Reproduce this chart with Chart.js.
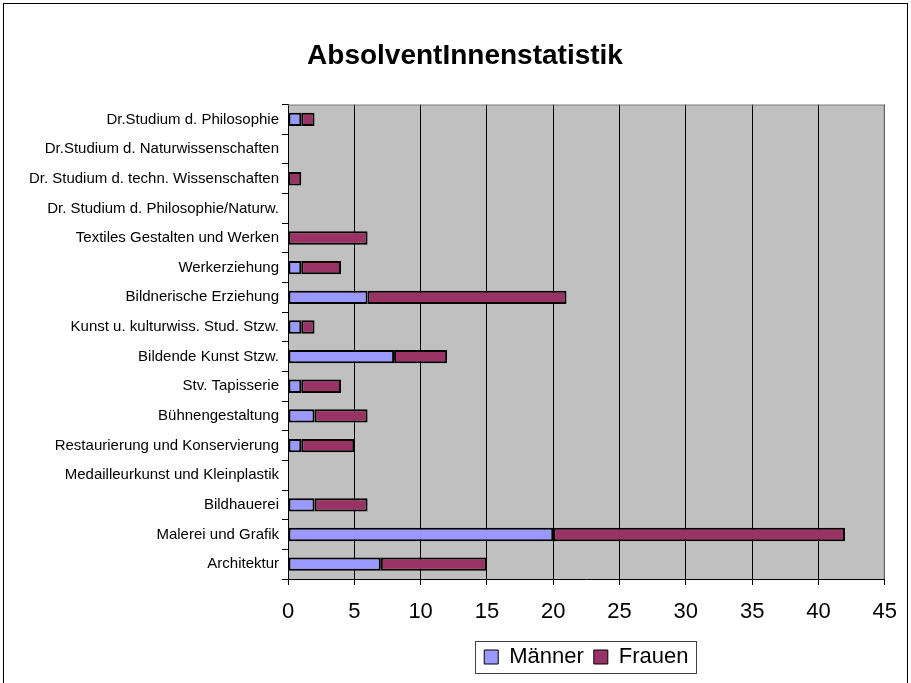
<!DOCTYPE html>
<html>
<head>
<meta charset="utf-8">
<script src="https://cdn.jsdelivr.net/npm/chart.js@4.4.1/dist/chart.umd.min.js"></script>
<style>
  html, body { margin: 0; padding: 0; background: #fff; }
</style>
</head>
<body>
<canvas id="myChart" width="911" height="683"></canvas>
<script>
const categories = [
  'Dr.Studium d. Philosophie',
  'Dr.Studium d. Naturwissenschaften',
  'Dr. Studium d. techn. Wissenschaften',
  'Dr. Studium d. Philosophie/Naturw.',
  'Textiles Gestalten und Werken',
  'Werkerziehung',
  'Bildnerische Erziehung',
  'Kunst u. kulturwiss. Stud. Stzw.',
  'Bildende Kunst Stzw.',
  'Stv. Tapisserie',
  'Bühnengestaltung',
  'Restaurierung und Konservierung',
  'Medailleurkunst und Kleinplastik',
  'Bildhauerei',
  'Malerei und Grafik',
  'Architektur'
];
const maenner = [1, 0, 0, 0, 0, 1, 6, 1, 8, 1, 2, 1, 0, 2, 20, 7];
const frauen  = [1, 0, 1, 0, 6, 3, 15, 1, 4, 3, 4, 4, 0, 4, 22, 8];
const xTicks = [0, 5, 10, 15, 20, 25, 30, 35, 40, 45];

// frame, grey plot area and legend box, Excel style
const excelLook = {
  id: 'excelLook',
  afterLayout(chart) {
    // title sits a bit right of the canvas centre in the original
    if (chart.titleBlock) {
      chart.titleBlock.left += 16;
      chart.titleBlock.right += 16;
    }
  },
  beforeDraw(chart) {
    const { ctx, chartArea: a } = chart;
    ctx.save();
    ctx.fillStyle = '#fff';
    ctx.fillRect(0, 0, chart.width, chart.height);
    ctx.fillStyle = '#c0c0c0';
    ctx.fillRect(a.left, a.top, a.right - a.left, a.bottom - a.top);
    ctx.restore();
  },
  afterDraw(chart) {
    const { ctx, chartArea: a } = chart;
    ctx.save();
    ctx.strokeStyle = '#808080';
    ctx.lineWidth = 1;
    ctx.beginPath();
    ctx.moveTo(a.left, a.top + 0.5);
    ctx.lineTo(a.right - 0.5, a.top + 0.5);
    ctx.lineTo(a.right - 0.5, a.bottom);
    ctx.stroke();

    ctx.strokeStyle = '#000';
    ctx.strokeRect(3.5, 3.5, 904, 684);

    const boxes = chart.legend.legendHitBoxes;
    if (boxes.length) {
      const l = Math.min(...boxes.map(b => b.left)) - 9;
      const r = Math.max(...boxes.map(b => b.left + b.width)) + 8;
      const t = Math.min(...boxes.map(b => b.top)) - 5;
      const btm = Math.max(...boxes.map(b => b.top + b.height)) + 5;
      ctx.strokeStyle = '#404040';
      ctx.strokeRect(Math.round(l) + 0.5, Math.round(t) + 0.5, Math.round(r - l), Math.round(btm - t));
    }
    ctx.restore();
  }
};

const font = 'Arial, "Liberation Sans"';

new Chart(document.getElementById('myChart'), {
  type: 'bar',
  data: {
    labels: categories,
    datasets: [
      {
        label: 'Männer',
        data: maenner,
        backgroundColor: '#9999ff',
        borderColor: '#000',
        borderWidth: 2,
        borderSkipped: false,
        categoryPercentage: 1,
        barPercentage: 0.45
      },
      {
        label: 'Frauen',
        data: frauen,
        backgroundColor: '#993366',
        borderColor: '#000',
        borderWidth: 2,
        borderSkipped: false,
        categoryPercentage: 1,
        barPercentage: 0.45
      }
    ]
  },
  options: {
    indexAxis: 'y',
    responsive: false,
    animation: false,
    layout: { padding: { left: 10, right: 23, top: 0, bottom: 5 } },
    scales: {
      x: {
        stacked: true,
        min: 0,
        max: 45,
        afterBuildTicks(scale) {
          scale.ticks = xTicks.map(v => ({ value: v }));
        },
        grid: {
          color: '#000',
          lineWidth: 1,
          tickLength: 6,
          drawOnChartArea: true
        },
        border: { color: '#000', width: 1 },
        ticks: {
          color: '#000',
          font: { family: font, size: 22 },
          padding: 14
        },
        afterFit(scale) { scale.height = 57; }
      },
      y: {
        stacked: true,
        grid: {
          offset: true,
          drawOnChartArea: false,
          color: '#000',
          tickLength: 6
        },
        border: { color: '#000', width: 1 },
        ticks: {
          color: '#000',
          font: { family: font, size: 15 },
          padding: 3,
          autoSkip: false
        },
        afterFit(scale) { scale.width = 278; }
      }
    },
    plugins: {
      title: {
        display: true,
        text: 'AbsolventInnenstatistik',
        color: '#000',
        font: { family: font, size: 28, weight: 'bold' },
        padding: { top: 39, bottom: 32 }
      },
      legend: {
        position: 'bottom',
        fullSize: false,
        labels: {
          color: '#000',
          boxWidth: 14,
          boxHeight: 14,
          padding: 10,
          font: { family: font, size: 22 },
          generateLabels(chart) {
            return chart.data.datasets.map((ds, i) => ({
              text: ds.label,
              fillStyle: ds.backgroundColor,
              strokeStyle: '#000',
              lineWidth: 1,
              datasetIndex: i
            }));
          }
        }
      },
      tooltip: { enabled: false }
    }
  },
  plugins: [excelLook]
});
</script>
</body>
</html>
